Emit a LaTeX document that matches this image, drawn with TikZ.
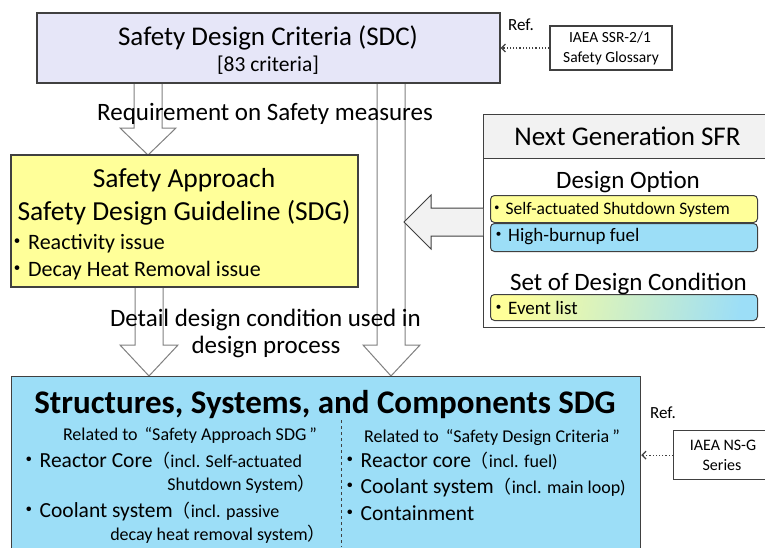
\documentclass[tikz,border=0pt]{standalone}
\usepackage{fontspec}
\setmainfont{Carlito}
\newfontfamily\cjk{Noto Sans CJK JP}
\usetikzlibrary{arrows.meta}
\definecolor{sdcfill}{HTML}{E6E6F8}
\definecolor{sdgfill}{HTML}{FFFF99}
\definecolor{sscfill}{HTML}{9CDEF7}
\definecolor{hdrfill}{HTML}{F2F2F2}
\definecolor{edge}{HTML}{404040}
\newcommand{\fs}[1]{\fontsize{#1}{#1}\selectfont}
\newcommand{\bul}{{\cjk ・}}

\begin{document}
\begin{tikzpicture}[x=1pt,y=-1pt,
    box/.style={draw=edge, line width=1.2pt, inner sep=0pt},
    optbox/.style={draw=edge, line width=1pt, rounded corners=4pt, inner sep=0pt, anchor=north west},
    txt/.style={inner sep=0pt, text=black},
    blk/.style={draw=gray, line width=1pt, fill=white},
    refarrow/.style={draw=edge, dotted, line width=1.2pt, -{Straight Barb[length=4pt,width=8pt]}}]
    \useasboundingbox (0,0) rectangle (765,547);

    % block arrows
    \draw[blk] (134,83) -- (134,128) -- (120,128) -- (148,155) -- (176,128) -- (162,128) -- (162,83);
    \draw[blk] (377,83) -- (377,345) -- (363,345) -- (391,376) -- (420,345) -- (405,345) -- (405,83);
    \draw[blk] (135,287) -- (135,345) -- (120,345) -- (149,376) -- (178,345) -- (163,345) -- (163,287);

    \node[box, fill=sdcfill, minimum width=463pt, minimum height=70pt] (sdc) at (268.5,48) {};
    \node[box, fill=sdgfill, minimum width=347pt, minimum height=132pt] (sdg) at (184.5,221) {};
    \node[box, fill=sscfill, minimum width=629pt, minimum height=190pt, anchor=north west] (ssc) at (11,376) {};
    \node[box, fill=white, minimum width=122pt, minimum height=44pt] (glos) at (611,48) {};
    \node[box, fill=white, minimum width=92pt, minimum height=49pt, anchor=north west] (nsg) at (673,430) {};
    \node[box, fill=hdrfill, minimum width=290pt, minimum height=44pt, anchor=north west] (nhead) at (483,114) {};
    \node[box, fill=white, minimum width=290pt, minimum height=169pt, anchor=north west] (nbody) at (483,158) {};

    \draw[blk, draw=edge, fill=hdrfill] (nbody.west |- 0,208) -- (431,208) -- (431,195) -- (404,222)
        -- (431,249) -- (431,236) -- (nbody.west |- 0,236);

    \draw[refarrow] (glos.west) -- (sdc.east |- glos.west);
    \draw[refarrow] (nsg.west) -- (ssc.east |- nsg.west);
    \draw[edge, dashed, line width=1pt] (341,420) -- (341,547);

    \node[optbox, fill=sdgfill, minimum width=267pt, minimum height=27pt] (opt1) at (490,195) {};
    \node[optbox, fill=sscfill, minimum width=267pt, minimum height=28pt] (opt2) at (490,223) {};
    \node[optbox, top color=sdgfill, bottom color=sscfill, shading angle=80, minimum width=267pt, minimum height=26pt] (evt) at (490,294) {};

    % texts
    \node[txt, anchor=base] (sdct) at (268,45) {\fs{27}Safety Design Criteria (SDC)};
    \node[txt, anchor=base] (sdcn) at (268,71) {\fs{21.5}[83 criteria]};
    \node[txt, anchor=base] (req) at (265,120) {\fs{25}Requirement on Safety measures};
    \node[txt, anchor=base] (sdga) at (184,187) {\fs{27.5}Safety Approach};
    \node[txt, anchor=base] (sdgb) at (184,220) {\fs{27.5}Safety Design Guideline (SDG)};
    \node[txt, anchor=base west] (sdgc) at (6,249) {\fs{22}\bul Reactivity issue};
    \node[txt, anchor=base west] (sdgd) at (6,276) {\fs{22}\bul Decay Heat Removal issue};
    \node[txt, anchor=base] (det1) at (265.5,326) {\fs{25}Detail design condition used in};
    \node[txt, anchor=base] (det2) at (266,353) {\fs{25}design process};
    \node[txt, anchor=base west] (ref1) at (508,30) {\fs{17}Ref.};
    \node[txt, anchor=base] (glos1) at (610,42) {\fs{15.5}IAEA SSR-2/1};
    \node[txt, anchor=base] (glos2) at (611,62) {\fs{15.5}Safety Glossary};
    \node[txt, anchor=base] (nt) at (627.5,145) {\fs{27}Next Generation SFR};
    \node[txt, anchor=base] (dopt) at (628,188) {\fs{25}Design Option};
    \node[txt, anchor=base west] (opt1t) at (488,214) {\fs{17.5}\bul Self-actuated Shutdown System};
    \node[txt, anchor=base west] (opt2t) at (489,241) {\fs{19}\bul High-burnup fuel};
    \node[txt, anchor=base] (dcond) at (628.5,290) {\fs{25}Set of Design Condition};
    \node[txt, anchor=base west] (evtt) at (489,314) {\fs{19}\bul Event list};
    \node[txt, anchor=base] (ssct) at (325,413) {\fs{33}\bfseries Structures, Systems, and Components SDG};
    \node[txt, anchor=base] (lhd) at (190,440) {\fs{18}Related to \,“Safety Approach SDG\,”};
    \node[txt, anchor=base west] (l1) at (18,467) {\fs{21.5}\bul Reactor Core{\fs{18}{\cjk （}incl. Self-actuated}};
    \node[txt, anchor=base east] (l2) at (316,490) {\fs{18}Shutdown System{\cjk ）}};
    \node[txt, anchor=base west] (l3) at (18,517) {\fs{21.5}\bul Coolant system{\fs{18}{\cjk （}incl. passive}};
    \node[txt, anchor=base east] (l4) at (326,540) {\fs{18}decay heat removal system{\cjk ）}};
    \node[txt, anchor=base] (rhd) at (492,442) {\fs{18}Related to \,“Safety Design Criteria\,”};
    \node[txt, anchor=base west] (r1) at (339,467) {\fs{21.5}\bul Reactor core{\fs{18}{\cjk （}incl. fuel)}};
    \node[txt, anchor=base west] (r2) at (339,493) {\fs{21.5}\bul Coolant system{\fs{18}{\cjk （}incl. main loop)}};
    \node[txt, anchor=base west] (r3) at (339,520) {\fs{21.5}\bul Containment};
    \node[txt, anchor=base west] (ref2) at (650,418) {\fs{17}Ref.};
    \node[txt, anchor=base] (nsg1) at (723,450) {\fs{16}IAEA NS-G};
    \node[txt, anchor=base] (nsg2) at (722,470) {\fs{16}Series};
\end{tikzpicture}
\end{document}
